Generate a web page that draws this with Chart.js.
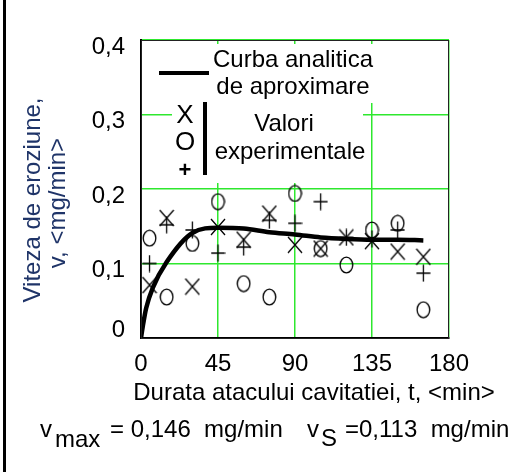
<!DOCTYPE html>
<html>
<head>
<meta charset="utf-8">
<script src="https://cdn.jsdelivr.net/npm/chart.js@4.4.0/dist/chart.umd.min.js"></script>
<style>
  html, body { margin: 0; padding: 0; background: #fff; }
  #wrap { width: 516px; height: 472px; }
</style>
</head>
<body>
<div id="wrap"><canvas id="grafic" width="516" height="472"></canvas></div>
<script>
// date
var timpi = [5, 15, 30, 45, 60, 75, 90, 105, 120, 135, 150, 165];
var valoriX = [0.071, 0.161, 0.069, 0.149, 0.132, 0.167, 0.125, 0.120, 0.135, 0.130, 0.116, 0.109];
var valoriO = [0.134, 0.055, 0.127, 0.183, 0.073, 0.055, 0.194, 0.120, 0.098, 0.145, 0.154, 0.038];
var valoriPlus = [0.100, 0.152, 0.145, 0.114, 0.122, 0.158, 0.154, 0.183, 0.135, 0.133, 0.145, 0.087];

var curbaT = [0, 1, 3, 7, 15, 30, 45, 60, 75, 90, 105, 120, 135, 150, 165];
var curbaV = [0, 0.015, 0.040, 0.068, 0.102, 0.141, 0.148, 0.147, 0.142, 0.139, 0.135, 0.133, 0.132, 0.132, 0.131];

var xTicks = [0, 45, 90, 135, 180];
var yTicks = [0, 0.1, 0.2, 0.3, 0.4];

var FONT = '"Liberation Sans", Arial, sans-serif';

function puncte(xs, ys) {
  return xs.map(function (x, i) { return { x: x, y: ys[i] }; });
}

// markere desenate pe canvas mic
function marker(w, h, deseneaza) {
  var c = document.createElement('canvas');
  c.width = w; c.height = h;
  var g = c.getContext('2d');
  g.strokeStyle = '#000';
  g.lineWidth = 1.3;
  g.beginPath();
  deseneaza(g, w, h);
  g.stroke();
  return c;
}
var semnX = marker(16, 18, function (g, w, h) {
  g.moveTo(1, 1); g.lineTo(w - 1, h - 1);
  g.moveTo(w - 1, 1); g.lineTo(1, h - 1);
});
var semnO = marker(15, 18, function (g, w, h) {
  g.ellipse(w / 2, h / 2, w / 2 - 1.2, h / 2 - 1.2, 0, 0, Math.PI * 2);
});
var semnPlus = marker(15, 18, function (g, w, h) {
  g.moveTo(w / 2, 0.5); g.lineTo(w / 2, h - 0.5);
  g.moveTo(0.5, h / 2); g.lineTo(w - 0.5, h / 2);
});

var texte = {
  id: 'texte',
  beforeDatasetsDraw: function (chart) {
    var ctx = chart.ctx;
    ctx.save();
    // fundal alb sub legenda
    ctx.fillStyle = '#fff';
    ctx.fillRect(150, 44, 226, 59);
    ctx.fillRect(172, 103, 191, 80);
    ctx.fillStyle = '#000';
    ctx.font = '24px ' + FONT;
    ctx.textAlign = 'center';
    ctx.textBaseline = 'middle';
    ctx.fillText('Curba analitica', 293, 60);
    ctx.fillText('de aproximare', 293, 87);
    ctx.fillText('Valori', 284, 124);
    ctx.fillText('experimentale', 290, 152);
    ctx.font = '26px ' + FONT;
    ctx.fillText('X', 185, 116);
    ctx.fillText('O', 185, 143);
    ctx.font = 'bold 22px ' + FONT;
    ctx.fillText('+', 185, 171);
    ctx.fillRect(159, 71, 50, 4);
    ctx.fillRect(203, 102, 4, 73);
    ctx.restore();
  },
  afterDraw: function (chart) {
    var ctx = chart.ctx;
    var a = chart.chartArea;
    ctx.save();
    // rama
    ctx.strokeStyle = '#222';
    ctx.lineWidth = 1;
    ctx.strokeRect(a.left + 0.5, a.top + 0.5, a.right - a.left - 1, a.bottom - a.top);
    ctx.fillStyle = '#000';
    ctx.fillRect(3, 0, 3, 472);

    // titlu axa x
    ctx.font = '24px ' + FONT;
    ctx.textAlign = 'center';
    ctx.textBaseline = 'middle';
    ctx.fillText('Durata atacului cavitatiei, t, <min>', 314, 393);

    // titlu axa y
    ctx.save();
    ctx.fillStyle = '#1f3468';
    ctx.translate(33, 200);
    ctx.rotate(-Math.PI / 2);
    ctx.fillText('Viteza de eroziune,', 0, 0);
    ctx.restore();
    ctx.save();
    ctx.fillStyle = '#1f3468';
    ctx.translate(58, 203);
    ctx.rotate(-Math.PI / 2);
    ctx.fillText('v, <mg/min>', 0, 0);
    ctx.restore();

    // rand de jos
    ctx.textAlign = 'left';
    ctx.textBaseline = 'alphabetic';
    ctx.fillText('v', 40, 437);
    ctx.fillText('max', 55, 447);
    ctx.fillText('= 0,146  mg/min', 110, 437);
    ctx.fillText('v', 307, 437);
    ctx.fillText('S', 321, 446);
    ctx.fillText('=0,113  mg/min', 345, 437);
    ctx.restore();
  }
};

var verde = '#2ee82e';

new Chart(document.getElementById('grafic'), {
  type: 'scatter',
  data: {
    datasets: [
      {
        label: 'Curba analitica de aproximare',
        type: 'line',
        data: puncte(curbaT, curbaV),
        borderColor: '#000',
        borderWidth: 4.5,
        pointRadius: 0,
        cubicInterpolationMode: 'monotone',
        fill: false
      },
      { label: 'X', data: puncte(timpi, valoriX), pointStyle: semnX, pointRadius: 9 },
      { label: 'O', data: puncte(timpi, valoriO), pointStyle: semnO, pointRadius: 9 },
      { label: '+', data: puncte(timpi, valoriPlus), pointStyle: semnPlus, pointRadius: 9 }
    ]
  },
  options: {
    responsive: false,
    animation: false,
    events: [],
    layout: { padding: { top: 40, right: 67, left: 0, bottom: 0 } },
    plugins: { legend: { display: false }, tooltip: { enabled: false } },
    scales: {
      x: {
        type: 'linear',
        min: 0, max: 180,
        afterBuildTicks: function (s) { s.ticks = xTicks.map(function (v) { return { value: v }; }); },
        afterFit: function (s) { s.height = 134; },
        grid: { color: verde, lineWidth: 1.5, drawTicks: false },
        border: { color: '#000', width: 2 },
        ticks: { color: '#000', padding: 12, maxRotation: 0, font: { family: FONT, size: 24 } }
      },
      y: {
        min: 0, max: 0.4,
        afterBuildTicks: function (s) { s.ticks = yTicks.map(function (v) { return { value: v }; }); },
        afterFit: function (s) { s.width = 141; },
        grid: { color: verde, lineWidth: 1.5, drawTicks: false },
        border: { color: '#000', width: 2 },
        ticks: {
          color: '#000', padding: 16, labelOffset: 7,
          font: { family: FONT, size: 24 },
          callback: function (v) { return v === 0 ? ['0', ''] : v.toFixed(1).replace('.', ','); }
        }
      }
    }
  },
  plugins: [texte]
});
</script>
</body>
</html>
